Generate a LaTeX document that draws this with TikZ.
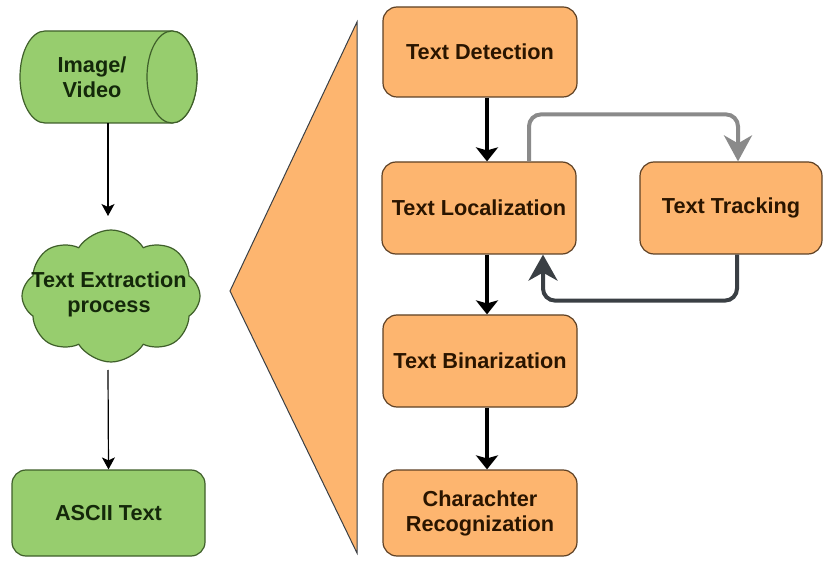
\documentclass[tikz,border=0pt]{standalone}
\usepackage{fontspec}
\setmainfont{Liberation Sans}
\usetikzlibrary{shapes.symbols,arrows.meta,calc}
\definecolor{orfill}{HTML}{FDB56F}
\definecolor{ordraw}{HTML}{5E4125}
\definecolor{grfill}{HTML}{97CD6E}
\definecolor{grdraw}{HTML}{3F5F2A}
\definecolor{ortext}{HTML}{2A1500}
\definecolor{grtext}{HTML}{14280A}
\definecolor{lightarr}{HTML}{8A8A8A}
\definecolor{darkarr}{HTML}{3A3F44}
\begin{document}
\begin{tikzpicture}[x=1pt,y=-1pt,
  lbl/.style={font=\bfseries\fontsize{21.7}{25}\selectfont, align=center},
  obox/.style={draw=ordraw, fill=orfill, line width=1.2pt, rounded corners=14pt,
    minimum width=194pt, minimum height=90pt, lbl, text=ortext},
  gbox/.style={draw=grdraw, fill=grfill, line width=1.2pt, rounded corners=14pt,
    minimum width=193pt, minimum height=86pt, lbl, text=grtext},
  thinarr/.style={draw=black, line width=1.2pt, -{Stealth[length=12pt,width=13pt,inset=3pt]}},
  blackarr/.style={draw=black, line width=4pt, -{Stealth[length=14pt,width=22pt,inset=3pt]}},
  grayarr/.style={draw=lightarr, line width=4pt, rounded corners=12pt,
    -{Stealth[length=26pt,width=28pt,inset=8pt]}},
  darkarrow/.style={draw=darkarr, line width=4pt, rounded corners=12pt,
    -{Stealth[length=26pt,width=29pt,inset=8pt]}}
]
\useasboundingbox (0,0) rectangle (825,561);

% cylinder
\filldraw[fill=grfill, draw=grdraw, line width=1.2pt]
  (45,31) -- (172,31) arc[start angle=270, end angle=450, x radius=25, y radius=46]
  -- (45,123) arc[start angle=90, end angle=270, x radius=25, y radius=46] -- cycle;
\filldraw[fill=grfill, draw=grdraw, line width=1.2pt]
  (172,77) ellipse[x radius=25, y radius=46];
\node[lbl, text=grtext] (img) at (92,77) {Image/\\Video};
\coordinate (cylb) at (108,123);
\coordinate (cltop) at (108,216);

% cloud
\node[cloud, draw=grdraw, fill=grfill, line width=1.2pt, cloud puffs=8, cloud puff arc=115,
  aspect=1.3, minimum width=178pt, minimum height=132pt] (cl) at (111,296) {};
\node[lbl, text=grtext] (clt) at (109,294) {Text Extraction\\process};
\coordinate (clbot) at (108,370);

% ASCII
\node[gbox] (ascii) at (108.5,513) {ASCII Text};

\draw[thinarr] (cylb) -- (cltop);
\draw[thinarr] (clbot) -- (ascii.north);

% triangle
\filldraw[fill=orfill, draw=darkarr, line width=1pt] (357,22) -- (230,291) -- (357,553) -- cycle;

% orange boxes
\node[obox] (det) at (480,52) {Text Detection};
\node[obox, minimum height=92pt] (loc) at (479,208) {Text Localization};
\node[obox, minimum height=92pt] (bin) at (480,361) {Text Binarization};
\node[obox, minimum height=86pt] (chr) at (480,513) {Charachter\\Recognization};
\node[obox, minimum width=182pt, minimum height=92pt] (trk) at (731,208) {Text Tracking};

\draw[blackarr] ($(det.south)+(7,0)$) -- ($(loc.north)+(8,0)$);
\draw[blackarr] ($(loc.south)+(8,0)$) -- ($(bin.north)+(7,0)$);
\draw[blackarr] ($(bin.south)+(7,0)$) -- ($(chr.north)+(7,0)$);

\draw[grayarr] ($(loc.north)+(50,0)$) -- ($(loc.north)+(50,-47)$) -| ($(trk.north)+(7,0)$);
\draw[darkarrow] ($(trk.south)+(6,0)$) -- ($(trk.south)+(6,46)$) -| ($(loc.south)+(64,0)$);
\end{tikzpicture}
\end{document}
